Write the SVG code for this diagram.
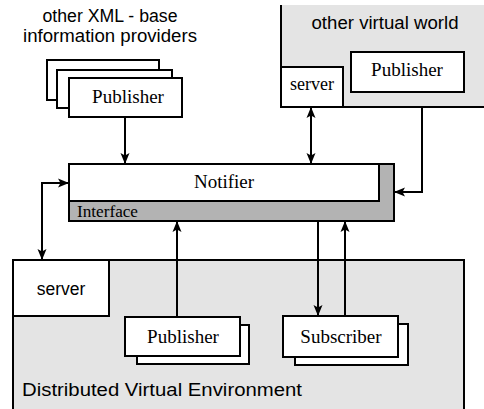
<svg xmlns="http://www.w3.org/2000/svg" width="484" height="409" viewBox="0 0 484 409">
<defs>
<marker id="ah" markerUnits="userSpaceOnUse" markerWidth="12" markerHeight="10" refX="11" refY="5" orient="auto-start-reverse">
<path d="M0,0.5 L11,5 L0,9.5 L2.5,5 z" fill="#000"/>
</marker>
<style>
.box{fill:#fff;stroke:#000;stroke-width:2}
.bg{fill:#e4e4e4;stroke:none}
.edge{fill:none;stroke:#000;stroke-width:2}
.serif{font-family:"Liberation Serif","Times New Roman",serif;fill:#000}
.sans{font-family:"Liberation Sans",Arial,sans-serif;fill:#000;font-size:17.5px}
.conn{fill:none;stroke:#000;stroke-width:2}
</style>
</defs>
<rect width="484" height="409" fill="#fff"/>

<g id="other-virtual-world">
<rect class="bg" x="281" y="5" width="203" height="102"/>
<path class="edge" d="M281,5 V107 H484"/>
<text class="sans" x="385" y="29" text-anchor="middle" textLength="147" lengthAdjust="spacingAndGlyphs">other virtual world</text>
</g>

<g id="dve">
<rect class="bg" x="13" y="260" width="451" height="160"/>
<path class="edge" d="M13,409 V260 H464 V409"/>
<text class="sans" x="22" y="396" textLength="280" lengthAdjust="spacingAndGlyphs">Distributed Virtual Environment</text>
</g>

<g id="xml-label">
<text class="sans" x="110" y="22" text-anchor="middle" textLength="135" lengthAdjust="spacingAndGlyphs">other XML - base</text>
<text class="sans" x="110" y="42" text-anchor="middle" textLength="174" lengthAdjust="spacingAndGlyphs">information providers</text>
</g>

<g id="xml-publishers">
<rect class="box" x="47" y="60" width="112" height="40"/>
<rect class="box" x="57" y="70" width="115" height="38"/>
<rect class="box" x="69" y="78" width="113" height="39"/>
<text class="serif" x="128" y="103" text-anchor="middle" font-size="19">Publisher</text>
</g>

<g id="ovw-server">
<rect class="box" x="281" y="67" width="62" height="40"/>
<text class="serif" x="312" y="90" text-anchor="middle" font-size="18">server</text>
</g>

<g id="ovw-publisher">
<rect class="box" x="351" y="52" width="113" height="40"/>
<text class="serif" x="407" y="76" text-anchor="middle" font-size="19">Publisher</text>
</g>

<g id="notifier">
<rect x="69" y="164" width="325" height="57" fill="#b3b3b3" stroke="#000" stroke-width="2"/>
<rect class="box" x="69" y="164" width="310" height="37"/>
<text class="serif" x="224" y="188" text-anchor="middle" font-size="19">Notifier</text>
<text class="serif" x="77" y="217" font-size="16" textLength="61" lengthAdjust="spacingAndGlyphs">Interface</text>
</g>

<g id="dve-server">
<rect class="box" x="13" y="260" width="96" height="56"/>
<text class="sans" x="61" y="295" text-anchor="middle" font-size="18">server</text>
</g>

<g id="dve-publishers">
<rect class="box" x="137" y="325" width="112" height="39"/>
<rect class="box" x="125" y="317" width="115" height="39"/>
<text class="serif" x="183" y="343" text-anchor="middle" font-size="19">Publisher</text>
</g>

<g id="subscribers">
<rect class="box" x="295" y="324" width="113" height="41"/>
<rect class="box" x="283" y="316" width="115" height="41"/>
<text class="serif" x="341" y="343" text-anchor="middle" font-size="19">Subscriber</text>
</g>

<g id="connectors">
<path class="conn" d="M125,117 V164" marker-end="url(#ah)"/>
<path class="conn" d="M311,107 V164" marker-start="url(#ah)" marker-end="url(#ah)"/>
<path class="conn" d="M422,107 V192 H394" marker-end="url(#ah)"/>
<path class="conn" d="M69,183 H42 V260" marker-start="url(#ah)" marker-end="url(#ah)"/>
<path class="conn" d="M177,317 V221" marker-end="url(#ah)"/>
<path class="conn" d="M318,221 V316" marker-end="url(#ah)"/>
<path class="conn" d="M345,316 V221" marker-end="url(#ah)"/>
</g>
</svg>
